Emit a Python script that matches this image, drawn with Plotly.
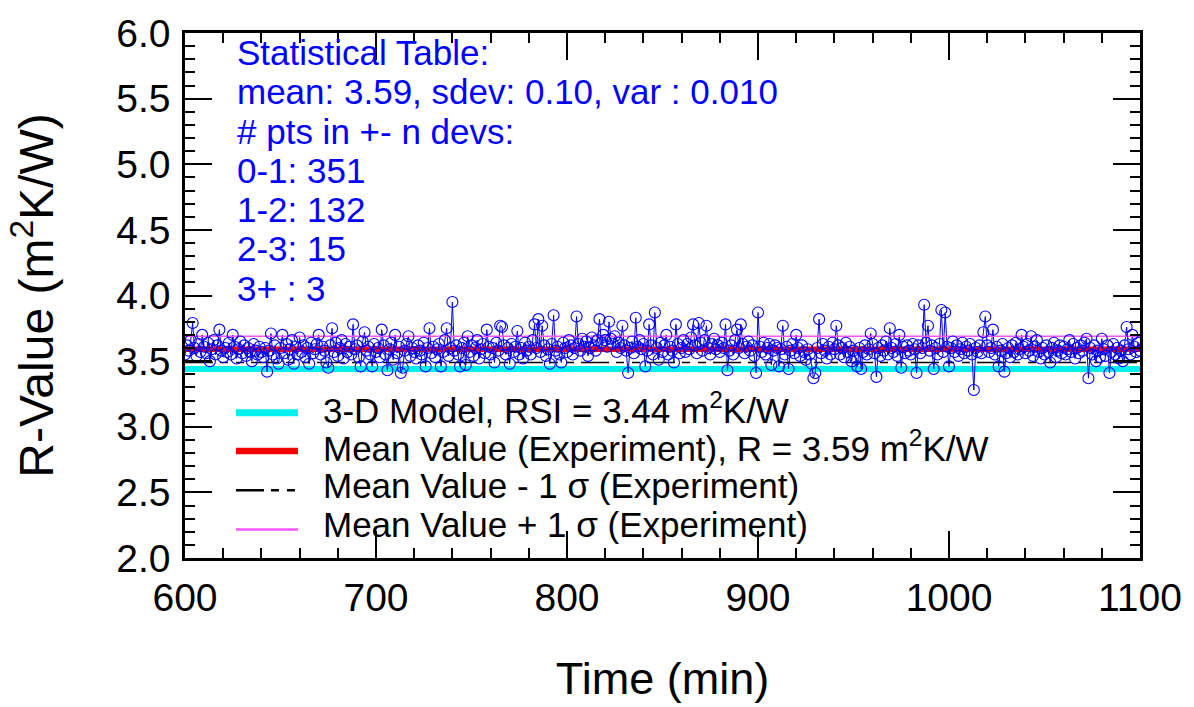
import plotly.graph_objects as go

# ---------------- data ----------------
time_start, time_end = 600, 1100
time_min = list(range(time_start, time_end + 1))

r_600_699 = [
    3.55, 3.62, 3.58, 3.66, 3.79, 3.60, 3.54, 3.63, 3.57, 3.70,
    3.61, 3.56, 3.64, 3.50, 3.59, 3.66, 3.55, 3.62, 3.74, 3.58,
    3.53, 3.60, 3.57, 3.64, 3.55, 3.70, 3.61, 3.52, 3.59, 3.65,
    3.56, 3.62, 3.54, 3.60, 3.57, 3.50, 3.63, 3.58, 3.55, 3.61,
    3.57, 3.53, 3.60, 3.42, 3.58, 3.71, 3.55, 3.62, 3.52, 3.48,
    3.60, 3.70, 3.56, 3.63, 3.51, 3.59, 3.66, 3.48, 3.61, 3.55,
    3.68, 3.57, 3.62, 3.53, 3.60, 3.48, 3.64, 3.56, 3.59, 3.63,
    3.70, 3.55, 3.61, 3.58, 3.49, 3.45, 3.62, 3.75, 3.57, 3.64,
    3.54, 3.60, 3.66, 3.52, 3.63, 3.57, 3.61, 3.55, 3.78, 3.59,
    3.62, 3.53, 3.46, 3.65, 3.72, 3.58, 3.61, 3.55, 3.46, 3.63,
]
r_700_799 = [
    3.57, 3.60, 3.53, 3.74, 3.62, 3.55, 3.43, 3.59, 3.64, 3.51,
    3.70, 3.56, 3.61, 3.41, 3.45, 3.58, 3.63, 3.69, 3.54, 3.60,
    3.57, 3.52, 3.62, 3.58, 3.55, 3.64, 3.46, 3.60, 3.75, 3.56,
    3.61, 3.53, 3.59, 3.63, 3.46, 3.57, 3.66, 3.75, 3.54, 3.60,
    3.95, 3.58, 3.62, 3.55, 3.46, 3.60, 3.64, 3.47, 3.69, 3.57,
    3.62, 3.54, 3.60, 3.66, 3.52, 3.59, 3.63, 3.56, 3.74, 3.61,
    3.55, 3.60, 3.49, 3.64, 3.58, 3.77, 3.76, 3.62, 3.55, 3.60,
    3.48, 3.63, 3.57, 3.61, 3.73, 3.55, 3.60, 3.52, 3.64, 3.58,
    3.61, 3.55, 3.66, 3.78, 3.60, 3.82, 3.57, 3.77, 3.62, 3.54,
    3.59, 3.48, 3.63, 3.85, 3.58, 3.61, 3.55, 3.49, 3.64, 3.60,
]
r_800_899 = [
    3.57, 3.66, 3.62, 3.55, 3.60, 3.84, 3.63, 3.58, 3.67, 3.61,
    3.65, 3.54, 3.60, 3.68, 3.62, 3.58, 3.66, 3.82, 3.64, 3.70,
    3.66, 3.61, 3.80, 3.67, 3.63, 3.69, 3.57, 3.64, 3.60, 3.77,
    3.62, 3.58, 3.41, 3.60, 3.65, 3.56, 3.83, 3.61, 3.66, 3.59,
    3.63, 3.46, 3.58, 3.78, 3.62, 3.55, 3.87, 3.60, 3.51, 3.64,
    3.57, 3.62, 3.70, 3.55, 3.61, 3.58, 3.49, 3.78, 3.63, 3.56,
    3.60, 3.66, 3.57, 3.63, 3.59, 3.68, 3.78, 3.62, 3.56, 3.79,
    3.64, 3.58, 3.66, 3.77, 3.60, 3.55, 3.63, 3.67, 3.59, 3.62,
    3.57, 3.64, 3.60, 3.78, 3.43, 3.58, 3.62, 3.55, 3.66, 3.74,
    3.60, 3.78, 3.63, 3.56, 3.61, 3.65, 3.58, 3.62, 3.54, 3.41,
]
r_900_999 = [
    3.87, 3.61, 3.57, 3.64, 3.55, 3.60, 3.63, 3.47, 3.58, 3.62,
    3.60, 3.46, 3.59, 3.77, 3.55, 3.61, 3.44, 3.58, 3.63, 3.56,
    3.70, 3.60, 3.54, 3.62, 3.57, 3.51, 3.59, 3.55, 3.48, 3.37,
    3.41, 3.60, 3.82, 3.56, 3.63, 3.58, 3.52, 3.61, 3.55, 3.64,
    3.59, 3.77, 3.62, 3.55, 3.60, 3.53, 3.64, 3.57, 3.61, 3.50,
    3.58, 3.52, 3.46, 3.60, 3.44, 3.57, 3.62, 3.55, 3.59, 3.71,
    3.63, 3.56, 3.38, 3.60, 3.54, 3.62, 3.58, 3.65, 3.55, 3.75,
    3.60, 3.57, 3.63, 3.54, 3.70, 3.45, 3.61, 3.56, 3.62, 3.58,
    3.55, 3.63, 3.59, 3.41, 3.62, 3.56, 3.60, 3.93, 3.64, 3.77,
    3.58, 3.62, 3.44, 3.60, 3.55, 3.63, 3.89, 3.57, 3.87, 3.61,
]
r_1000_1100 = [
    3.46, 3.60, 3.65, 3.57, 3.62, 3.54, 3.59, 3.64, 3.56, 3.61,
    3.58, 3.63, 3.55, 3.28, 3.60, 3.57, 3.62, 3.56, 3.72, 3.84,
    3.62, 3.57, 3.60, 3.74, 3.55, 3.61, 3.46, 3.58, 3.63, 3.42,
    3.56, 3.60, 3.53, 3.62, 3.57, 3.64, 3.55, 3.59, 3.70, 3.61,
    3.56, 3.63, 3.58, 3.69, 3.54, 3.61, 3.66, 3.57, 3.52, 3.60,
    3.55, 3.62, 3.57, 3.49, 3.60, 3.64, 3.53, 3.58, 3.62, 3.56,
    3.61, 3.55, 3.59, 3.66, 3.57, 3.63, 3.52, 3.60, 3.56, 3.62,
    3.58, 3.64, 3.67, 3.37, 3.60, 3.55, 3.62, 3.50, 3.58, 3.53,
    3.67, 3.59, 3.54, 3.62, 3.41, 3.57, 3.63, 3.55, 3.60, 3.52,
    3.58, 3.50, 3.62, 3.76, 3.59, 3.55, 3.70, 3.61, 3.57, 3.64,
    3.58,
]
r_value = r_600_699 + r_700_799 + r_800_899 + r_900_999 + r_1000_1100

model_rsi = 3.44
mean_r = 3.59
sdev_r = 0.10

stats_lines = [
    "Statistical Table:",
    "mean: 3.59, sdev: 0.10, var : 0.010",
    "# pts in +- n devs:",
    "0-1: 351",
    "1-2: 132",
    "2-3: 15",
    "3+ : 3",
]

legend_labels = [
    "3-D Model, RSI = 3.44 m<sup>2</sup>K/W",
    "Mean Value (Experiment), R = 3.59 m<sup>2</sup>K/W",
    "Mean Value - 1 σ (Experiment)",
    "Mean Value + 1 σ (Experiment)",
]

# ---------------- styling ----------------
FONT = "Liberation Sans, Arial, Helvetica, sans-serif"
W, H = 1194, 707
L, R, T, B = 185, 54, 23, 149
PW, PH = W - L - R, H - T - B


def px_x(px):
    return (px - L) / PW


def px_y(py):
    return (H - B - py) / PH


CYAN = "#00f0f0"
RED = "#ff0000"
MAGENTA = "#ff55ff"
BLUE = "#0000ff"
DASH = "28px,7px,8px,8px,8px,7px"

line_styles = [
    dict(color=CYAN, width=6, dash="solid"),
    dict(color=RED, width=5.5, dash="solid"),
    dict(color="black", width=1.5, dash=DASH),
    dict(color=MAGENTA, width=1.5, dash="solid"),
]
line_levels = [model_rsi, mean_r, mean_r - sdev_r, mean_r + sdev_r]

fig = go.Figure()
xs = [time_start, time_end]

# model line (below the data)
fig.add_trace(go.Scatter(x=xs, y=[model_rsi, model_rsi], mode="lines",
                         line=line_styles[0], name=legend_labels[0],
                         showlegend=False, hoverinfo="skip"))

# connecting line of the measurements
fig.add_trace(go.Scatter(x=time_min, y=r_value, mode="lines",
                         line=dict(color=BLUE, width=1.0),
                         showlegend=False, hoverinfo="skip"))

# mean and +-1 sigma lines
for lvl, st, lab in zip(line_levels[1:], line_styles[1:], legend_labels[1:]):
    fig.add_trace(go.Scatter(x=xs, y=[lvl, lvl], mode="lines", line=st,
                             name=lab, showlegend=False, hoverinfo="skip"))

# measurement markers on top
fig.add_trace(go.Scatter(
    x=time_min, y=r_value, mode="markers",
    marker=dict(symbol="circle-open", size=11, color=BLUE,
                line=dict(color=BLUE, width=1.1)),
    showlegend=False, name="R-Value",
))

# custom legend (sample line + label)
legend_y_px = [410, 449, 489, 529]
shapes = []
annotations = []
for py, st, lab in zip(legend_y_px, line_styles, legend_labels):
    shapes.append(dict(type="line", xref="paper", yref="paper",
                       x0=px_x(236), x1=px_x(298), y0=px_y(py), y1=px_y(py),
                       line=dict(color=st["color"], width=st["width"] + 1,
                                 dash=st["dash"])))
    annotations.append(dict(xref="paper", yref="paper", x=px_x(321), y=px_y(py - 5),
                            xanchor="left", yanchor="middle", showarrow=False,
                            text=lab, font=dict(family=FONT, size=35, color="black")))

# statistics table
for i, txt in enumerate(stats_lines):
    py = 43 + 40 * i
    annotations.append(dict(xref="paper", yref="paper", x=px_x(235), y=px_y(py),
                            xanchor="left", yanchor="middle", showarrow=False,
                            text=txt, font=dict(family=FONT, size=35, color=BLUE)))

axis_common = dict(
    showline=True, linecolor="black", linewidth=2.5, mirror="ticks",
    ticks="inside", ticklen=27, tickwidth=2, tickcolor="black",
    showgrid=False, zeroline=False,
    tickfont=dict(family=FONT, size=39, color="black"),
)

fig.update_layout(
    width=W, height=H,
    margin=dict(l=L, r=R, t=T, b=B, pad=0),
    paper_bgcolor="white", plot_bgcolor="white",
    font=dict(family=FONT, color="black"),
    showlegend=False,
    shapes=shapes,
    annotations=annotations,
    xaxis=dict(range=[600, 1100], dtick=100, tick0=600,
               minor=dict(dtick=20, ticks="inside", ticklen=10, tickwidth=1.5,
                          tickcolor="black", showgrid=False),
               ticklabelstandoff=3,
               title=dict(text="Time (min)", font=dict(family=FONT, size=45),
                          standoff=45),
               **axis_common),
    yaxis=dict(range=[2.0, 6.0], dtick=0.5, tick0=2.0, tickformat=".1f",
               minor=dict(dtick=0.1, ticks="inside", ticklen=10, tickwidth=1.5,
                          tickcolor="black", showgrid=False),
               ticklabelstandoff=4,
               title=dict(text="R-Value (m<sup>2</sup>K/W)",
                          font=dict(family=FONT, size=48), standoff=48),
               **axis_common),
)

fig.write_html("out.html")
